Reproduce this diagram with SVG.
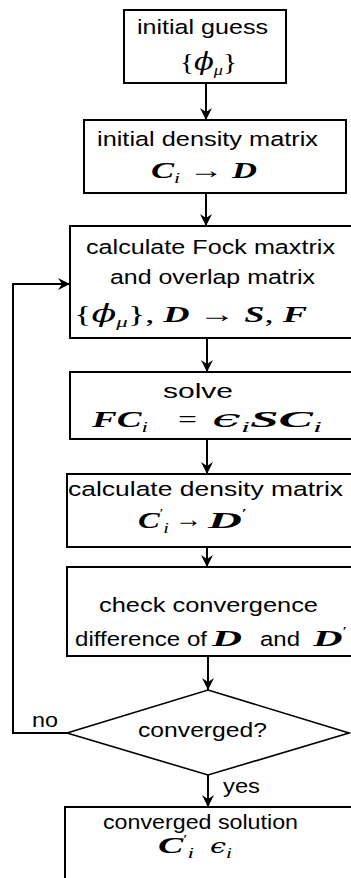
<svg xmlns="http://www.w3.org/2000/svg" width="351" height="878" viewBox="0 0 351 878">
  <style>
    .box { fill: #fff; stroke: #000; stroke-width: 2; }
    .dia { fill: #fff; stroke: #000; stroke-width: 1.6; }
    .t { font-family: "Liberation Sans", Arial, sans-serif; font-size: 20.5px; fill: #000; }
    .m { font-family: "Liberation Serif", "DejaVu Serif", serif; font-size: 24px; fill: #000; }
    .b { font-weight: bold; font-style: italic; }
    .it { font-style: italic; }
    .g { font-family: "DejaVu Serif", serif; font-style: italic; }
    .s { font-size: 15px; font-style: italic; }
    .c { fill: none; stroke: #000; stroke-width: 2; }
  </style>
  <defs>
    <marker id="ah" viewBox="0 0 12 12" refX="12" refY="6" markerWidth="12" markerHeight="12" markerUnits="userSpaceOnUse" orient="auto">
      <path d="M0,0 L12,6 L0,12 L4,6 Z" fill="#000"/>
    </marker>
  </defs>
  <rect x="0" y="0" width="351" height="878" fill="#fff"/>

  <g id="connectors">
    <line class="c" x1="206" y1="83" x2="206" y2="120" marker-end="url(#ah)"/>
    <line class="c" x1="206" y1="193" x2="206" y2="226" marker-end="url(#ah)"/>
    <line class="c" x1="207" y1="338" x2="207" y2="372" marker-end="url(#ah)"/>
    <line class="c" x1="207" y1="439" x2="207" y2="474" marker-end="url(#ah)"/>
    <line class="c" x1="207" y1="547" x2="207" y2="567" marker-end="url(#ah)"/>
    <line class="c" x1="208" y1="656" x2="208" y2="690" marker-end="url(#ah)"/>
    <line class="c" x1="208" y1="775" x2="208" y2="807" marker-end="url(#ah)"/>
    <polyline class="c" points="67,733 13,733 13,284 70,284" marker-end="url(#ah)"/>
    <text class="t" x="32" y="727" textLength="26" lengthAdjust="spacingAndGlyphs">no</text>
    <text class="t" x="223" y="793" textLength="37" lengthAdjust="spacingAndGlyphs">yes</text>
  </g>

  <g id="initial-guess">
    <rect class="box" x="124" y="10" width="162" height="73"/>
    <text class="t" x="137" y="34" textLength="131" lengthAdjust="spacingAndGlyphs">initial guess</text>
    <text class="m" x="180" y="70" textLength="57" lengthAdjust="spacingAndGlyphs">{<tspan class="g">ϕ</tspan><tspan class="s" dy="5">μ</tspan><tspan dy="-5">}</tspan></text>
  </g>

  <g id="initial-density">
    <rect class="box" x="84" y="120" width="262" height="73"/>
    <text class="t" x="97" y="146" textLength="221" lengthAdjust="spacingAndGlyphs">initial density matrix</text>
    <text class="m" x="151" y="178" textLength="106" lengthAdjust="spacingAndGlyphs"><tspan class="b">C</tspan><tspan class="s" dy="5">i</tspan><tspan dy="-5"> → </tspan><tspan class="b">D</tspan></text>
  </g>

  <g id="fock">
    <rect class="box" x="70" y="226" width="300" height="112"/>
    <text class="t" x="86" y="254" textLength="249" lengthAdjust="spacingAndGlyphs">calculate Fock maxtrix</text>
    <text class="t" x="110" y="284" textLength="205" lengthAdjust="spacingAndGlyphs">and overlap matrix</text>
    <text class="m" x="74" y="322" textLength="233" lengthAdjust="spacingAndGlyphs">{<tspan class="g">ϕ</tspan><tspan class="s" dy="5">μ</tspan><tspan dy="-5">}, </tspan><tspan class="b">D</tspan> → <tspan class="b">S</tspan>, <tspan class="b">F</tspan></text>
  </g>

  <g id="solve">
    <rect class="box" x="70" y="372" width="300" height="67"/>
    <text class="t" x="163" y="398" textLength="70" lengthAdjust="spacingAndGlyphs">solve</text>
    <text class="m" x="92" y="427" textLength="56" lengthAdjust="spacingAndGlyphs"><tspan class="b">FC</tspan><tspan class="s" dy="5">i</tspan></text>
    <text class="m" x="178" y="427" textLength="19" lengthAdjust="spacingAndGlyphs">=</text>
    <text class="m" x="212" y="427" textLength="110" lengthAdjust="spacingAndGlyphs"><tspan class="g">ϵ</tspan><tspan class="s" dy="5">i</tspan><tspan class="b" dy="-5">SC</tspan><tspan class="s" dy="5">i</tspan></text>
  </g>

  <g id="calc-density">
    <rect class="box" x="67" y="474" width="300" height="73"/>
    <text class="t" x="68" y="496" textLength="275" lengthAdjust="spacingAndGlyphs">calculate density matrix</text>
    <text class="m" x="138" y="528" textLength="31" lengthAdjust="spacingAndGlyphs"><tspan class="b">C</tspan><tspan font-size="12" dy="-11">′</tspan><tspan class="s" dy="16">i</tspan></text>
    <text class="m" x="175" y="527" textLength="27" lengthAdjust="spacingAndGlyphs">→</text>
    <text class="m" x="208" y="528" textLength="39" lengthAdjust="spacingAndGlyphs"><tspan class="b">D</tspan><tspan font-size="12" dy="-11">′</tspan></text>
  </g>

  <g id="check">
    <rect class="box" x="67" y="567" width="300" height="89"/>
    <text class="t" x="99" y="612" textLength="219" lengthAdjust="spacingAndGlyphs">check convergence</text>
    <text class="t" x="75" y="646" textLength="132" lengthAdjust="spacingAndGlyphs">difference of</text>
    <text class="m b" x="212" y="646" textLength="30" lengthAdjust="spacingAndGlyphs">D</text>
    <text class="t" x="260" y="646" textLength="40" lengthAdjust="spacingAndGlyphs">and</text>
    <text class="m" x="313" y="646" textLength="34" lengthAdjust="spacingAndGlyphs"><tspan class="b">D</tspan><tspan font-size="12" dy="-11">′</tspan></text>
  </g>

  <g id="converged">
    <polygon class="dia" points="208,690 349,733 208,775 67,733"/>
    <text class="t" x="138" y="737" textLength="129" lengthAdjust="spacingAndGlyphs">converged?</text>
  </g>

  <g id="solution">
    <rect class="box" x="65" y="807" width="300" height="100"/>
    <text class="t" x="103" y="829" textLength="195" lengthAdjust="spacingAndGlyphs">converged solution</text>
    <text class="m" x="158" y="853" textLength="36" lengthAdjust="spacingAndGlyphs"><tspan class="b">C</tspan><tspan font-size="12" dy="-10">′</tspan><tspan class="s" dy="15">i</tspan></text>
    <text class="m" x="210" y="853" textLength="22" lengthAdjust="spacingAndGlyphs"><tspan class="g" font-size="20">ϵ</tspan><tspan class="s" dy="5">i</tspan></text>
  </g>
</svg>
